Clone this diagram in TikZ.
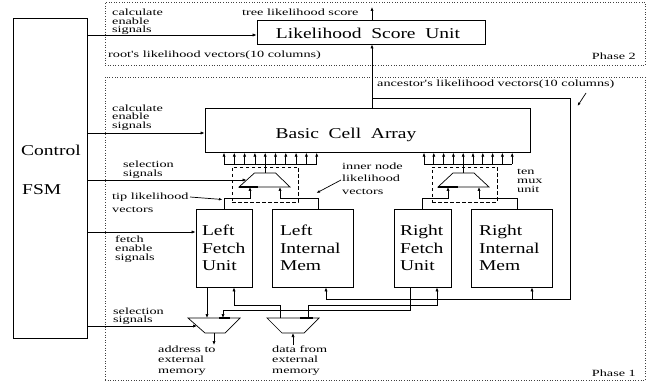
\documentclass[tikz,border=0pt]{standalone}
\usepackage{fontspec}
\setmainfont{Liberation Serif}[FakeStretch=1.3]
\newfontfamily\lblfamily{Liberation Serif}[FakeStretch=1.5]
\usetikzlibrary{arrows.meta}
\newcommand\bigtextfont{\fontsize{15}{17.5}\selectfont}
\tikzset{
  ln/.style={line width=0.7pt},
  arr/.style={ln, -{Latex[length=4pt,width=3.2pt]}},
  box/.style={draw, line width=0.8pt, inner sep=0pt},
  tbox/.style={box, align=left, font=\bigtextfont, inner ysep=0pt, minimum height=78pt},
  bigtxt/.style={font=\bigtextfont, inner sep=0pt},
  sm/.style={font=\lblfamily\fontsize{9.5}{#1}\selectfont, inner sep=0pt, align=left},
  sm/.default=8.5,
  phase/.style={draw=black!75, dotted, line width=0.6pt, inner sep=0pt},
  dbox/.style={draw, dash pattern=on 3.5pt off 2.5pt, line width=0.7pt, inner sep=0pt},
  mux/.style={line width=0.7pt},
  thk/.style={line width=1.6pt},
}
\begin{document}
\begin{tikzpicture}[x=1pt,y=-1pt]
\useasboundingbox (0,0) rectangle (652,387);

% phase regions
\node[phase, minimum width=540pt, minimum height=63pt] (ph2) at (375,33.5) {};
\node[phase, minimum width=540pt, minimum height=303pt] (ph1) at (375,228.5) {};

% control FSM
\node[box, minimum width=74pt, minimum height=320pt] (ctrl) at (50,178) {};
\node[bigtxt, anchor=base west] (ctrlA) at (21,156) {Control};
\node[bigtxt, anchor=base west] (ctrlB) at (22,195) {FSM};

% likelihood score unit
\node[box, minimum width=228pt, minimum height=24pt] (lsu) at (371,32) {};
\node[bigtxt, anchor=base] (lsut) at (368,38.5) {Likelihood\ \ Score\ \ Unit};

% basic cell array
\node[box, minimum width=325pt, minimum height=44pt] (bca) at (367.5,130) {};
\node[bigtxt, anchor=base] (bcat) at (346,139) {Basic\ \ Cell\ \ Array};

% fetch units and memories
\node[tbox, text width=44pt, inner xsep=6pt] (lf) at (224,248) {Left\\Fetch\\Unit};
\node[tbox, text width=65pt, inner xsep=8pt] (lim) at (312.5,248) {Left\\Internal\\Mem};
\node[tbox, text width=45pt, inner xsep=6pt] (rf) at (422.5,248) {Right\\Fetch\\Unit};
\node[tbox, text width=65pt, inner xsep=8pt] (rim) at (511.5,248) {Right\\Internal\\Mem};

% ten mux unit boxes
\node[dbox, minimum width=66pt, minimum height=35pt] (lmb) at (265,184.5) {};
\node[dbox, minimum width=65pt, minimum height=35pt] (rmb) at (464.5,184.5) {};

% left mux
\coordinate (lm1) at (239,187); \coordinate (lm2) at (254.5,173);
\coordinate (lm3) at (275.5,173); \coordinate (lm4) at (290,187);
\draw[mux] (lm1) -- (lm2) -- (lm3) -- (lm4) -- cycle;
\draw[thk] (lm1) -- (258,187);
\coordinate (lmo) at (265.2,173);
\coordinate (lmi1) at (250,187); \coordinate (lmi2) at (280,187);
\coordinate (lmsel) at (246.5,180);

% right mux
\coordinate (rm1) at (438,187); \coordinate (rm2) at (453,173);
\coordinate (rm3) at (474,173); \coordinate (rm4) at (489,187);
\draw[mux] (rm1) -- (rm2) -- (rm3) -- (rm4) -- cycle;
\draw[thk] (rm1) -- (458,187);
\coordinate (rmo) at (463.2,173);
\coordinate (rmi1) at (448,187); \coordinate (rmi2) at (479,187);

% address mux
\coordinate (am1) at (188,318); \coordinate (am2) at (240,318);
\coordinate (am3) at (225,333); \coordinate (am4) at (205,333);
\draw[mux] (am1) -- (am2) -- (am3) -- (am4) -- cycle;
\draw[thk] (219,318) -- (230,318);
\coordinate (amo) at (214,333);
\coordinate (ami1) at (207,318); \coordinate (ami2) at (223,318);
\coordinate (amsel) at (197,326);
\coordinate (addrOut) at (214,345);

% data mux
\coordinate (dm1) at (267,318); \coordinate (dm2) at (319,318);
\coordinate (dm3) at (304,333); \coordinate (dm4) at (282,333);
\draw[mux] (dm1) -- (dm2) -- (dm3) -- (dm4) -- cycle;
\draw[thk] (300,318) -- (313,318);
\coordinate (dmi) at (293,333); \coordinate (dataIn) at (293,345);
\coordinate (dmo1) at (280,318); \coordinate (dmo2) at (308,318);

% buses into basic cell array
\draw[ln] (224,164) -- (316.7,164);
\draw[ln] (lmo) -- (lmo |- 0,164);
\foreach \i in {0,...,9} \draw[arr] ({224+\i*10.3},164) -- ++(0,-11.3);
\draw[ln] (424,164) -- (512.2,164);
\draw[ln] (rmo) -- (rmo |- 0,164);
\foreach \i in {0,...,9} \draw[arr] ({424+\i*9.8},164) -- ++(0,-11.3);

% mux inputs
\draw[arr] (lf.north) -- ++(0,-10) -| (lmi1);
\draw[arr] (318,0 |- lim.north) -- ++(0,-10) -| (lmi2);
\draw[arr] (rf.north) -- ++(0,-10) -| (rmi1);
\draw[arr] (517,0 |- rim.north) -- ++(0,-10) -| (rmi2);

% control signals
\draw[arr] (ctrl.east |- 0,35) -- (lsu.west |- 0,35);
\draw[arr] (ctrl.east |- 0,133) -- (bca.west |- 0,133);
\draw[arr] (ctrl.east |- lmsel) -- (lmsel);
\draw[arr] (ctrl.east |- 0,232) -- (lf.west |- 0,232);
\draw[arr] (ctrl.east |- amsel) -- (amsel);

% phase 2 data
\coordinate (treeout) at (372,7);
\draw[arr] (treeout |- lsu.north) -- (treeout);
\coordinate (bcao) at (372,0 |- bca.north);
\draw[arr] (bcao) -- (bcao |- lsu.south);

% ancestor feedback
\coordinate (ancA) at (372,98);
\coordinate (ancB) at (570,299);
\coordinate (ancR) at (532,299);
\draw[arr] (ancA) -| (ancB) -| (326,0 |- lim.south);
\draw[arr] (ancR) -- (ancR |- rim.south);

% external memory paths
\draw[arr] (207,0 |- lf.south) -- (ami1);
\draw[arr] (dmo1) -- ++(0,-13) -| (234,0 |- lf.south);
\draw[arr] (dmo2) -- ++(0,-13) -| (437,0 |- rf.south);
\draw[arr] (410,0 |- rf.south) -- ++(0,23) -| (ami2);
\draw[arr] (amo) -- (addrOut);
\draw[arr] (dataIn) -- (dmi);

% pointers
\coordinate (tipA) at (190,197); \coordinate (tipB) at (222.5,199.5);
\draw[ln, -{Latex[length=3.5pt,width=2.8pt]}] (tipA) -- (tipB);
\coordinate (innA) at (341,180); \coordinate (innB) at (316.5,193);
\draw[ln, -{Latex[length=3.5pt,width=2.8pt]}] (innA) -- (innB);
\coordinate (ancPA) at (586,93); \coordinate (ancPB) at (577.5,106);
\draw[ln, -{Latex[length=3.5pt,width=2.8pt]}] (ancPA) -- (ancPB);

% labels
\node[sm=8.4, anchor=north west] (p2calc) at (112,9.2) {calculate\\enable\\signals};
\node[sm, anchor=base west] (treel) at (242,15.5) {tree likelihood score};
\node[sm, anchor=base west] (rootl) at (108,58) {root's likelihood vectors(10 columns)};
\node[sm, anchor=base east] (ph2l) at (636,60) {Phase 2};
\node[sm, anchor=base west] (ancl) at (377,87) {ancestor's likelihood vectors(10 columns)};
\node[sm=8.4, anchor=north west] (p1calc) at (112,104.8) {calculate\\enable\\signals};
\node[sm=9.5, anchor=north west] (sel1) at (123,160.5) {selection\\signals};
\node[sm=13, anchor=north west] (tipl) at (112,192.5) {tip likelihood\\vectors};
\node[sm=12.5, anchor=north west] (innl) at (342,162.5) {inner node\\likelihood\\vectors};
\node[sm=9, anchor=north west] (tenl) at (517,168.5) {ten\\mux\\unit};
\node[sm=9, anchor=north west] (fetchl) at (115,235.5) {fetch\\enable\\signals};
\node[sm=8.5, anchor=north west] (sel2) at (113,307.5) {selection\\signals};
\node[sm=10.5, anchor=north west] (addrl) at (158,345.5) {address to\\external\\memory};
\node[sm=10.5, anchor=north west] (datal) at (272,345.5) {data from\\external\\memory};
\node[sm, anchor=base east] (ph1l) at (636,376) {Phase 1};
\end{tikzpicture}
\end{document}
